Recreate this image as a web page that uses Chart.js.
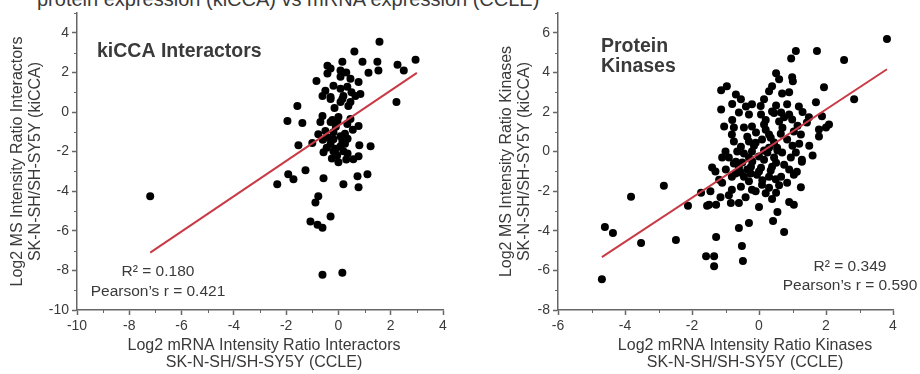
<!DOCTYPE html>
<html><head><meta charset="utf-8">
<script src="https://cdn.jsdelivr.net/npm/chart.js@4"></script>
<style>
html,body{margin:0;padding:0;background:#fff;}
body{width:920px;height:374px;position:relative;overflow:hidden;font-family:"Liberation Sans",Arial,sans-serif;}
#title{position:absolute;left:37px;top:-11px;font-size:20px;line-height:20px;color:#3a3a3a;white-space:nowrap;}
.wrap{position:absolute;top:0;width:460px;height:374px;}
</style></head><body>
<div id="title">protein expression (kiCCA) vs mRNA expression (CCLE)</div>
<div class="wrap" style="left:0"><canvas id="c1" width="460" height="374"></canvas></div>
<div class="wrap" style="left:460px"><canvas id="c2" width="460" height="374"></canvas></div>
<script>
// ---------- data: kiCCA interactors ----------
const interX = [1.57,0.61,2.95,1.49,0.92,2.26,2.5,1.53,1.15,0.15,-0.42,-0.3,0.08,0.08,0.46,0.77,-0.84,-0.19,0.34,0.65,-0.61,-0.3,0.19,0.08,0.46,0.38,2.22,-1.57,-0.61,-1.95,-1.38,-0.69,-0.3,-0.04,0.34,0.77,0.46,-0.5,-0.19,-0.77,0.08,-0.19,0.15,-0.3,0.08,-1.0,-1.53,0.8,1.23,-0.57,-0.19,0.19,0.77,0.57,0,-1.26,-1.92,-1.72,-0.57,0.73,1.11,-2.34,-7.2,0.19,0.77,-0.77,-0.88,-1.07,-0.8,-0.61,-0.3,-0.61,0.15,0.08,-0.5,0.84,0.15,-0.3,-0.23,-0.42,0.3,-0.1,0.25,-0.4,0.35,-0.05,0.35,0.55,-0.25,-0.1,0.25,-0.45,0.0,-0.6,0.5,-0.15,0.3];
const interY = [3.55,3.05,2.64,2.54,2.54,2.39,2.1,2.1,1.98,2.54,2.34,2.2,2.1,1.78,1.68,1.52,1.57,1.32,1.27,0.81,0.81,0.76,0.81,0.5,0.5,0.3,0.5,0.3,-0.2,-0.45,-0.56,-0.51,-0.51,-0.45,-0.61,-0.71,-0.35,-0.96,-1.02,-1.12,-1.22,-1.37,-1.47,-1.62,-1.73,-1.57,-1.68,-1.68,-1.73,-2.03,-1.98,-1.98,-2.23,-2.39,-2.54,-2.94,-3.15,-3.4,-3.35,-3.25,-3.15,-3.65,-4.26,-3.65,-3.8,-4.26,-4.57,-5.53,-5.69,-5.84,-5.28,-8.22,-8.12,1.17,1.07,0.91,0.66,0.66,-0.41,1.95,2.0,-0.75,-1.1,-1.3,-1.35,-2.2,-2.1,-0.9,-2.35,-1.85,-1.6,-1.8,-0.25,-1.4,1.0,0.2,-2.4];
const interFitX = [-7.2, 3.0];
const interFitY = [-7.1, 1.98];
const interXTicks = [-10,-8,-6,-4,-2,0,2,4];
const interYTicks = [-10,-8,-6,-4,-2,0,2,4];

// ---------- data: protein kinases ----------
const kinX = [3.82,1.1,1.73,0.96,2.54,0.51,0.6,0.39,0.99,1.01,1.94,-1.13,-0.96,-0.69,-0.54,0.3,0.69,0.9,2.84,1.7,-1.13,-0.39,-0.21,0.15,0.51,0.84,1.19,-0.6,-0.3,0.06,0.39,0.66,0.9,1.49,1.88,-1.04,-0.75,-0.45,-0.21,0.15,0.6,0.75,0.99,1.43,2.09,1.79,2.0,-0.81,-0.09,0.3,1.04,1.25,1.79,-0.75,-0.3,0.09,0.45,0.84,-0.54,-0.21,0.54,0.69,0,1.1,-1.1,-0.69,-0.3,0.15,0.51,1.28,-0.99,-0.6,-0.24,0.06,0.39,0.75,-1.19,-0.81,-0.45,-0.06,0.3,0.66,1.04,-2.84,-3.82,-1.73,-2.12,-1.55,-1.28,-0.84,-1.1,-0.81,-0.54,-0.21,0.09,0.3,0.51,0.84,0.9,1.04,0.39,-4.6,-4.36,-3.52,-2.48,-1.28,-0.6,-0.3,0.42,0.75,-1.58,-1.34,-1.34,-0.51,-0.48,-4.69,-0.15,0.3,-0.45,0.25,-0.9,0.45,-0.55,0.0,-0.3,0.5,-0.75,0.9,-1.3,0.2,-0.35,0.65,1.5,-0.9,-0.4,-0.6,0.2,1.25,-1.45,0.05,-0.8,1.3,-1.4,1.6,0.0,0.55,-0.1,0.35,-1.0,1.2,1.28,1.13,-1.49,-0.7,-0.2,0.1,-0.5,0.55,-0.1,0.35,0.7,-0.65,0.2,-0.25,1.0,0.95,-1.15,0.6,-0.35,0.15,0.45,-0.8,1.15];
const kinY = [5.69,5.08,5.08,4.7,4.62,3.96,3.65,3.3,3.76,3.55,3.25,3.1,3.3,2.89,2.64,3.05,2.94,3.0,2.64,2.49,2.13,2.28,2.39,2.64,2.33,2.39,2.28,1.98,1.88,1.88,2.03,1.98,1.88,1.73,1.78,1.27,1.22,1.22,1.27,1.37,1.52,1.73,1.62,1.47,1.37,1.12,1.22,0.86,0.96,0.86,1.02,0.86,0.76,0.51,0.51,0.61,0.46,0.61,0.25,0,0.2,-0.05,-0.25,-0.05,-0.3,-0.51,-0.3,-0.41,-0.56,-0.51,-0.91,-0.81,-0.76,-0.81,-0.76,-0.66,-1.42,-1.27,-1.27,-1.17,-1.27,-1.27,-1.17,-1.73,-2.28,-2.08,-2.74,-2.74,-2.69,-2.59,-1.57,-1.93,-1.78,-1.93,-1.68,-1.83,-2.08,-1.57,-2.54,-2.69,-2.39,-3.81,-4.11,-4.62,-4.47,-4.31,-3.86,-3.6,-3.5,-4.06,-5.28,-5.28,-5.79,-4.77,-5.53,-6.45,0.3,0.2,-0.1,-0.05,-0.3,-0.3,-1.05,-1.0,-1.5,-1.4,-0.6,-0.9,-1.0,1.1,0.75,0.9,0.3,-2.2,-2.3,-2.6,-2.1,-1.8,-2.0,2.3,2.4,2.0,-0.8,-0.2,-2.8,-3.05,0.45,-0.95,0.0,0.4,-0.41,-1.02,-2.69,-1.1,-0.5,-1.45,-0.55,0.05,-2.0,0.7,1.2,0.0,1.6,-1.1,0.3,-0.3,-2.3,-1.7,-0.9,0.05,1.95,1.6,1.3];
const kinFitX = [-4.69, 3.82];
const kinFitY = [-5.33, 4.16];
const kinXTicks = [-6,-4,-2,0,2,4];
const kinYTicks = [-8,-6,-4,-2,0,2,4,6];

// ---------- styling ----------
const FONT = '"Liberation Sans", Arial, sans-serif';
const TXT = '#3a3a3a';
const AXIS = '#666666';
const FIT = '#c83a46';

function pts(xs, ys){ return xs.map((x,i)=>({x:x, y:ys[i]})); }

const minorTicks = {
  id: 'minorTicks',
  afterDraw(chart){
    const ctx = chart.ctx, sx = chart.scales.x, sy = chart.scales.y;
    const mx = chart.options.plugins.minorTicks.xMajors, my = chart.options.plugins.minorTicks.yMajors;
    ctx.save(); ctx.strokeStyle = AXIS; ctx.lineWidth = 1;
    sx.ticks.forEach(t => { if (!mx.includes(t.value)) { const p = Math.round(sx.getPixelForValue(t.value))+0.5; ctx.beginPath(); ctx.moveTo(p, sx.top); ctx.lineTo(p, sx.top+3); ctx.stroke(); } });
    sy.ticks.forEach(t => { if (!my.includes(t.value)) { const p = Math.round(sy.getPixelForValue(t.value))+0.5; ctx.beginPath(); ctx.moveTo(sy.right, p); ctx.lineTo(sy.right-3, p); ctx.stroke(); } });
    ctx.restore();
  }
};

const textLayer = {
  id: 'textLayer',
  afterDraw(chart){
    const ctx = chart.ctx;
    const items = chart.options.plugins.textLayer.items;
    ctx.save(); ctx.fillStyle = TXT; ctx.textBaseline = 'middle';
    items.forEach(it => { ctx.font = it.font; ctx.textAlign = it.align || 'left'; ctx.fillText(it.text, it.x, it.y); });
    ctx.restore();
  }
};

function makeChart(id, o){
  return new Chart(document.getElementById(id), {
    type: 'scatter',
    data: { datasets: [
      { type:'line', data: pts(o.fitX, o.fitY), borderColor: FIT, borderWidth: 2, pointRadius: 0, fill:false, order: 0 },
      { data: pts(o.xs, o.ys), backgroundColor: '#000', borderWidth: 0, pointRadius: 4, pointHoverRadius: 4, order: 1 }
    ]},
    plugins: [minorTicks, textLayer],
    options: {
      responsive: false, animation: false, events: [],
      layout: { padding: { left: 0, right: o.padRight, top: 13, bottom: 0 } },
      plugins: { legend:{display:false}, tooltip:{enabled:false},
        minorTicks: { xMajors: o.xTicks, yMajors: o.yTicks },
        textLayer: { items: o.texts } },
      scales: {
        x: { type:'linear', min:o.xMin, max:o.xMax,
          afterFit: s => { s.height = 64; },
          grid: { drawOnChartArea:false, tickLength:5, tickWidth:1.5,
            tickColor: c => o.xTicks.includes(c.tick.value) ? AXIS : 'rgba(0,0,0,0)' },
          border: { display:true, color:AXIS, width:1.5 },
          ticks: { stepSize:1, autoSkip:false, maxRotation:0, padding:3, color:TXT, font:{family:FONT, size:14},
            callback: v => o.xTicks.includes(v) ? String(v) : '' } },
        y: { type:'linear', min:o.yMin, max:o.yMax,
          afterFit: s => { s.width = o.yWidth; },
          grid: { drawOnChartArea:false, tickLength:5, tickWidth:1.5,
            tickColor: c => o.yTicks.includes(c.tick.value) ? AXIS : 'rgba(0,0,0,0)' },
          border: { display:true, color:AXIS, width:1.5 },
          ticks: { stepSize:1, autoSkip:false, padding:3, color:TXT, font:{family:FONT, size:14},
            callback: v => o.yTicks.includes(v) ? String(v) : '' },
          title: { display:true, text:o.yTitle, color:TXT, padding:{top:o.yTitlePad, bottom:0},
            font:{family:FONT, size:16, lineHeight:'18px'} } }
      }
    }
  });
}

const BOLD = 'bold 19.5px ' + FONT, ANN = '15.5px ' + FONT, AX = '16px ' + FONT;

makeChart('c1', {
  xs: interX, ys: interY, fitX: interFitX, fitY: interFitY,
  xMin:-10, xMax:4, yMin:-10, yMax:5, xTicks: interXTicks, yTicks: interYTicks,
  yWidth: 77, padRight: 17, yTitlePad: 9,
  yTitle: ['Log2 MS Intensity Ratio Interactors', 'SK-N-SH/SH-SY5Y (kiCCA)'],
  texts: [
    { text:'kiCCA Interactors', x:97, y:52, font:BOLD },
    { text:'R\u00B2 = 0.180', x:158, y:272, font:ANN, align:'center' },
    { text:'Pearson\u2019s r = 0.421', x:158, y:292, font:ANN, align:'center' },
    { text:'Log2 mRNA Intensity Ratio Interactors', x:264, y:346, font:AX, align:'center' },
    { text:'SK-N-SH/SH-SY5Y (CCLE)', x:264, y:363, font:AX, align:'center' }
  ]
});

makeChart('c2', {
  xs: kinX, ys: kinY, fitX: kinFitX, fitY: kinFitY,
  xMin:-6, xMax:4, yMin:-8, yMax:7, xTicks: kinXTicks, yTicks: kinYTicks,
  yWidth: 98, padRight: 27, yTitlePad: 38,
  yTitle: ['Log2 MS Intensity Ratio Kinases', 'SK-N-SH/SH-SY5Y (kiCCA)'],
  texts: [
    { text:'Protein', x:141, y:47, font:BOLD },
    { text:'Kinases', x:141, y:67, font:BOLD },
    { text:'R\u00B2 = 0.349', x:390, y:267, font:ANN, align:'center' },
    { text:'Pearson\u2019s r = 0.590', x:390, y:286, font:ANN, align:'center' },
    { text:'Log2 mRNA Intensity Ratio Kinases', x:285, y:346, font:AX, align:'center' },
    { text:'SK-N-SH/SH-SY5Y (CCLE)', x:285, y:363, font:AX, align:'center' }
  ]
});
</script>
</body></html>
